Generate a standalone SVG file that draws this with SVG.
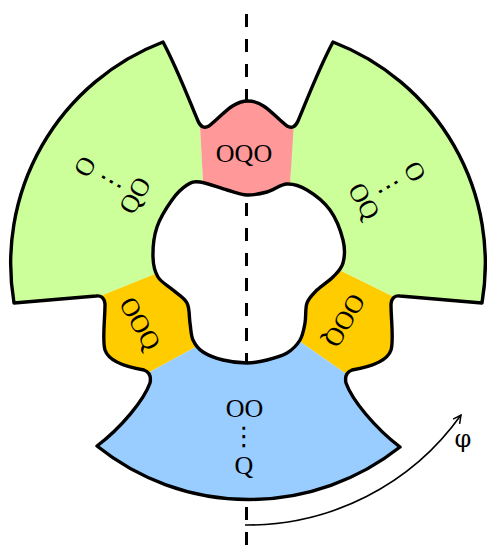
<svg xmlns="http://www.w3.org/2000/svg" width="487" height="546" viewBox="0 0 487 546">
<style>
.ol{fill:none;stroke:#000;stroke-width:3.4;stroke-linejoin:round}
.dash{fill:none;stroke:#000;stroke-width:3;stroke-dasharray:13 12}
.green{fill:#CCFF99}
.red{fill:#FF9999}
.yellow{fill:#FFCC00}
.blue{fill:#99CCFF}
text{font-family:"Liberation Serif","DejaVu Serif",serif;font-size:26px;fill:#000;text-anchor:middle}
.dots{font-family:"DejaVu Sans",sans-serif}
.phi{font-family:"DejaVu Serif",serif;font-size:24px;fill:#000}
</style>
<defs>
<clipPath id="ringclip">
<path clip-rule="evenodd" d="M163,42 C178,70 191,105 198,121 Q202,130 209,126 C222,116 232,101 248,101 C264,101 274,116 287,126 Q294,130 298,121 C305,105 318,70 333,42 A237,237 0 0 1 482,303 L400,296 Q392,295 391,304 C391,320 394,340 391,350 C387,362 370,367 352,370 Q344,373 346,383 C352,400 375,428 400,447 A243,243 0 0 1 97,446 C121,428 144,400 150,383 Q152,373 144,370 C126,367 109,362 105,350 C102,340 105,320 105,304 Q104,295 96,296 L14,303 A237,237 0 0 1 163,42 Z M200,182 C206.7,182.8 219.2,187.8 227,190 C234.8,192.2 240.3,194.7 247,195 C253.7,195.3 260.3,193.8 267,192 C273.7,190.2 280.3,184.3 287,184 C293.7,183.7 299.8,185.7 307,190 C314.2,194.3 324,201.7 330,210 C336,218.3 340.8,231.2 343,240 C345.2,248.8 344.7,256.8 343,263 C341.3,269.2 337.3,272.5 333,277 C328.7,281.5 321.3,285.7 317,290 C312.7,294.3 309,297.5 307,303 C305,308.5 306.2,316.8 305,323 C303.8,329.2 303,335 300,340 C297,345 292.5,349.7 287,353 C281.5,356.3 273.7,358.3 267,360 C260.3,361.7 254.3,363 247,363 C239.7,363 230.3,361.8 223,360 C215.7,358.2 208,355.3 203,352 C198,348.7 195.2,344.8 193,340 C190.8,335.2 191,329.2 190,323 C189,316.8 189.8,308.5 187,303 C184.2,297.5 177.8,294.3 173,290 C168.2,285.7 161.3,282.5 158,277 C154.7,271.5 153.2,265.3 153,257 C152.8,248.7 153.8,236.5 157,227 C160.2,217.5 167,207 172,200 C177,193 182.3,188 187,185 C191.7,182 193.3,181.2 200,182 Z"/>
</clipPath>
<marker id="ah" viewBox="0 0 10 10" refX="9" refY="5" markerWidth="10" markerHeight="10" markerUnits="userSpaceOnUse" orient="auto">
<path d="M1,1 L9,5 L1,9" fill="none" stroke="#000" stroke-width="1.5"/>
</marker>
</defs>

<g id="axis" class="dash">
<line x1="246.5" y1="14" x2="246.5" y2="102"/>
<line x1="246.5" y1="203" x2="246.5" y2="366"/>
<line x1="246.5" y1="507" x2="246.5" y2="546"/>
</g>

<g id="green-left">
<polygon class="green" clip-path="url(#ringclip)" points="0,0 195,0 200,127 204,200 170,268 88,301 60,320 0,320"/>
<g transform="translate(110,181) rotate(-60)">
<text x="0" y="-20.2">O</text>
<text class="dots" x="0" y="9.4">⋮</text>
<text x="0" y="37.4">QO</text>
</g>
</g>

<g id="green-right">
<polygon class="green" clip-path="url(#ringclip)" points="299,0 487,0 487,330 410,318 400,300 325,263 289,200 293,122"/>
<g transform="translate(389.5,186.4) rotate(60)">
<text x="0" y="-20.8">O</text>
<text class="dots" x="0" y="9.4">⋮</text>
<text x="0" y="38">OQ</text>
</g>
</g>

<g id="red">
<polygon class="red" clip-path="url(#ringclip)" points="198,90 296,90 289,200 204,200"/>
<text x="244" y="161.5">OQO</text>
</g>

<g id="yellow-left">
<polygon class="yellow" clip-path="url(#ringclip)" points="88,301 170,268 205,342 135,380 95,365 80,320"/>
<g transform="translate(140,323.5) rotate(60)">
<text x="0" y="8.6">OOQ</text>
</g>
</g>

<g id="yellow-right">
<polygon class="yellow" clip-path="url(#ringclip)" points="325,263 400,300 410,318 405,365 355,380 292,336"/>
<g transform="translate(344.5,320.5) rotate(120)">
<text x="0" y="8.6">OOQ</text>
</g>
</g>

<g id="blue">
<polygon class="blue" clip-path="url(#ringclip)" points="135,380 205,342 292,336 355,380 430,440 420,520 80,520 60,440"/>
<text x="244.5" y="416.5">OO</text>
<text class="dots" x="244" y="445">⋮</text>
<text x="244" y="473.5">Q</text>
</g>

<g id="outline" class="ol">
<path d="M163,42 C178,70 191,105 198,121 Q202,130 209,126 C222,116 232,101 248,101 C264,101 274,116 287,126 Q294,130 298,121 C305,105 318,70 333,42 A237,237 0 0 1 482,303 L400,296 Q392,295 391,304 C391,320 394,340 391,350 C387,362 370,367 352,370 Q344,373 346,383 C352,400 375,428 400,447 A243,243 0 0 1 97,446 C121,428 144,400 150,383 Q152,373 144,370 C126,367 109,362 105,350 C102,340 105,320 105,304 Q104,295 96,296 L14,303 A237,237 0 0 1 163,42 Z"/>
<path d="M200,182 C206.7,182.8 219.2,187.8 227,190 C234.8,192.2 240.3,194.7 247,195 C253.7,195.3 260.3,193.8 267,192 C273.7,190.2 280.3,184.3 287,184 C293.7,183.7 299.8,185.7 307,190 C314.2,194.3 324,201.7 330,210 C336,218.3 340.8,231.2 343,240 C345.2,248.8 344.7,256.8 343,263 C341.3,269.2 337.3,272.5 333,277 C328.7,281.5 321.3,285.7 317,290 C312.7,294.3 309,297.5 307,303 C305,308.5 306.2,316.8 305,323 C303.8,329.2 303,335 300,340 C297,345 292.5,349.7 287,353 C281.5,356.3 273.7,358.3 267,360 C260.3,361.7 254.3,363 247,363 C239.7,363 230.3,361.8 223,360 C215.7,358.2 208,355.3 203,352 C198,348.7 195.2,344.8 193,340 C190.8,335.2 191,329.2 190,323 C189,316.8 189.8,308.5 187,303 C184.2,297.5 177.8,294.3 173,290 C168.2,285.7 161.3,282.5 158,277 C154.7,271.5 153.2,265.3 153,257 C152.8,248.7 153.8,236.5 157,227 C160.2,217.5 167,207 172,200 C177,193 182.3,188 187,185 C191.7,182 193.3,181.2 200,182 Z"/>
</g>

<g id="connectors">
<path d="M245,525 A262,262 0 0 0 461,415" fill="none" stroke="#000" stroke-width="1.6" marker-end="url(#ah)"/>
<text class="phi" x="463" y="447">φ</text>
</g>
</svg>
